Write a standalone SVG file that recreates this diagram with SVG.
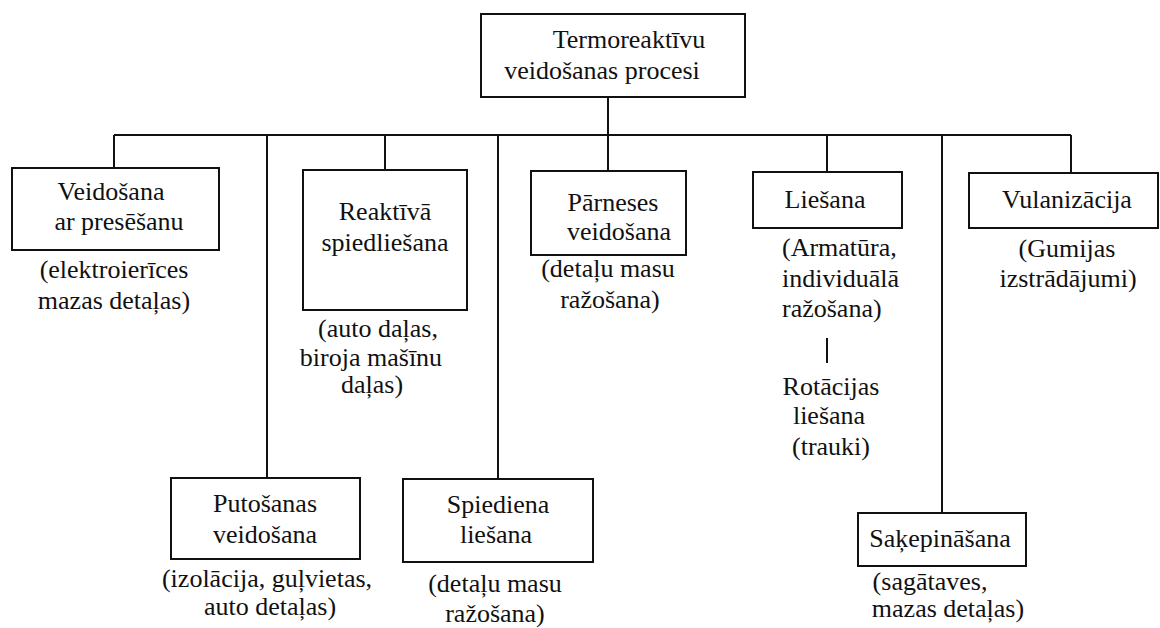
<svg xmlns="http://www.w3.org/2000/svg" width="1160" height="628" viewBox="0 0 1160 628">
<style>
.box{fill:#fff;stroke:#111;stroke-width:2}
.ln{fill:none;stroke:#111;stroke-width:2}
.t text{font-size:26px;fill:#111;text-anchor:middle}
.t text.st{text-anchor:start}
</style>
<rect width="1160" height="628" fill="#fff"/>
<g id="connectors">
<path class="ln" d="M608 97V171M114 135H1071M114 135V168M267 135V478M385 135V170M498 135V479M827 135V172M942 135V513M1071 135V173M827 338V363"/>
</g>
<g class="t" font-family="Liberation Serif, Tinos, DejaVu Serif, serif">
<g id="n-top">
<rect class="box" x="481" y="14" width="264" height="83"/>
<text x="629" y="48">Termoreaktīvu</text>
<text x="602" y="79">veidošanas procesi</text>
</g>
<g id="n-veidosana">
<rect class="box" x="12" y="168" width="207" height="82"/>
<text x="111" y="200">Veidošana</text>
<text x="119" y="230">ar presēšanu</text>
<text x="114" y="278">(elektroierīces</text>
<text x="114" y="309">mazas detaļas)</text>
</g>
<g id="n-reaktiva">
<rect class="box" x="303" y="170" width="164" height="140"/>
<text x="385" y="220">Reaktīvā</text>
<text x="385" y="251">spiedliešana</text>
<text x="378" y="337">(auto daļas,</text>
<text x="371" y="366">biroja mašīnu</text>
<text x="372" y="393">daļas)</text>
</g>
<g id="n-parneses">
<rect class="box" x="531" y="171" width="155" height="84"/>
<text x="613" y="211">Pārneses</text>
<text x="619" y="240">veidošana</text>
<text x="608" y="277">(detaļu masu</text>
<text x="610" y="308">ražošana)</text>
</g>
<g id="n-liesana">
<rect class="box" x="753" y="172" width="149" height="56"/>
<text x="825" y="208">Liešana</text>
<text class="st" x="782" y="256">(Armatūra,</text>
<text class="st" x="782" y="287">individuālā</text>
<text class="st" x="782" y="317">ražošana)</text>
</g>
<g id="n-rotacijas">
<text x="831" y="395">Rotācijas</text>
<text x="829" y="424">liešana</text>
<text x="831" y="455">(trauki)</text>
</g>
<g id="n-vulanizacija">
<rect class="box" x="969" y="173" width="189" height="55"/>
<text x="1067" y="208">Vulanizācija</text>
<text x="1067" y="257">(Gumijas</text>
<text x="1068" y="287">izstrādājumi)</text>
</g>
<g id="n-putosanas">
<rect class="box" x="171" y="478" width="189" height="81"/>
<text x="265" y="512">Putošanas</text>
<text x="265" y="543">veidošana</text>
<text x="267" y="587">(izolācija, guļvietas,</text>
<text x="270" y="615">auto detaļas)</text>
</g>
<g id="n-spiediena">
<rect class="box" x="403" y="479" width="190" height="83"/>
<text x="498" y="513">Spiediena</text>
<text x="496" y="543">liešana</text>
<text x="495" y="592">(detaļu masu</text>
<text x="495" y="622">ražošana)</text>
</g>
<g id="n-sakepinasana">
<rect class="box" x="858" y="513" width="168" height="53"/>
<text x="940" y="547">Saķepināšana</text>
<text x="930" y="590">(sagātaves,</text>
<text x="948" y="617">mazas detaļas)</text>
</g>
</g>
</svg>
